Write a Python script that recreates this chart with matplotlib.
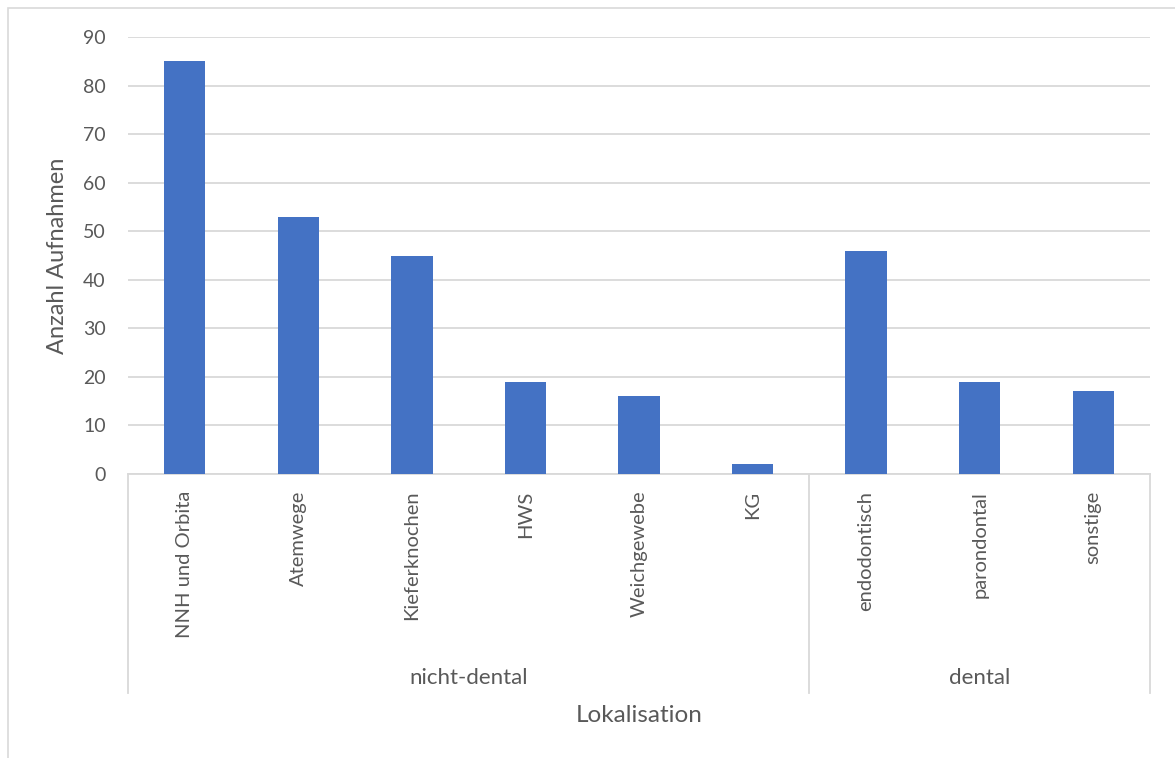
import matplotlib
matplotlib.use("Agg")
import matplotlib.pyplot as plt
from matplotlib.transforms import blended_transform_factory
from matplotlib.patches import Rectangle

categories = ["NNH und Orbita", "Atemwege", "Kieferknochen", "HWS", "Weichgewebe", "KG",
              "endodontisch", "parondontal", "sonstige"]
values = [85, 53, 45, 19, 16, 2, 46, 19, 17]
groups = ["nicht-dental", "dental"]
group_sizes = [6, 3]
y_ticks = [0, 10, 20, 30, 40, 50, 60, 70, 80, 90]

plt.rcParams['font.family'] = ['Lato', 'DejaVu Sans']
txt = "#595959"
grid = "#d9d9d9"
bar_color = "#4472C4"

W, H = 1175, 758
fig = plt.figure(figsize=(W / 100, H / 100), dpi=100)
left, right, top, bottom = 128, 1150, 37, 474
ax = fig.add_axes([left / W, 1 - bottom / H, (right - left) / W, (bottom - top) / H])

x = list(range(len(categories)))
ax.bar(x, values, width=0.364, color=bar_color, zorder=3)
ax.set_xlim(-0.5, len(categories) - 0.5)
ax.set_ylim(0, 90)
ax.set_yticks(y_ticks)
ax.set_yticklabels([str(v) for v in y_ticks], fontsize=14, color=txt)
ax.yaxis.grid(True, color=grid, linewidth=1.3, zorder=0)
ax.tick_params(axis='y', length=0, pad=16)
ax.tick_params(axis='x', length=0, pad=12)
ax.set_xticks(x)
ax.set_xticklabels(categories, rotation=90, fontsize=14.5, color=txt, va='top', ha='center')
for s in ['left', 'right', 'top']:
    ax.spines[s].set_visible(False)
ax.spines['bottom'].set_color(grid)
ax.spines['bottom'].set_linewidth(1.3)

ax.set_ylabel("Anzahl Aufnahmen", fontsize=17, color=txt)
ax.yaxis.set_label_coords((68 - left) / (right - left), 0.5)

# group separators and labels
tr = blended_transform_factory(ax.transData, ax.transAxes)
sep_bottom = -(693 - bottom) / (bottom - top)
label_y = -(678 - bottom) / (bottom - top)
start = -0.5
bounds = [start]
for g, n in zip(groups, group_sizes):
    end = start + n
    ax.text((start + end) / 2, label_y, g, transform=tr, ha='center', va='center',
            fontsize=16, color=txt)
    start = end
    bounds.append(end)
for b in bounds:
    ax.plot([b, b], [0, sep_bottom], transform=tr, color=grid, linewidth=1.3, clip_on=False)

fig.text((left + right) / 2 / W, 1 - 716 / H, "Lokalisation", ha='center', va='center',
         fontsize=17.5, color=txt)

# outer chart border (only left and top edges fall inside the image)
fig.patches.append(Rectangle((7.5 / W, -0.05), 1.2, 1 - 8.3 / H + 0.05,
                             transform=fig.transFigure, fill=False, edgecolor=grid, linewidth=1.2))

fig.savefig("out.png", dpi=100)
